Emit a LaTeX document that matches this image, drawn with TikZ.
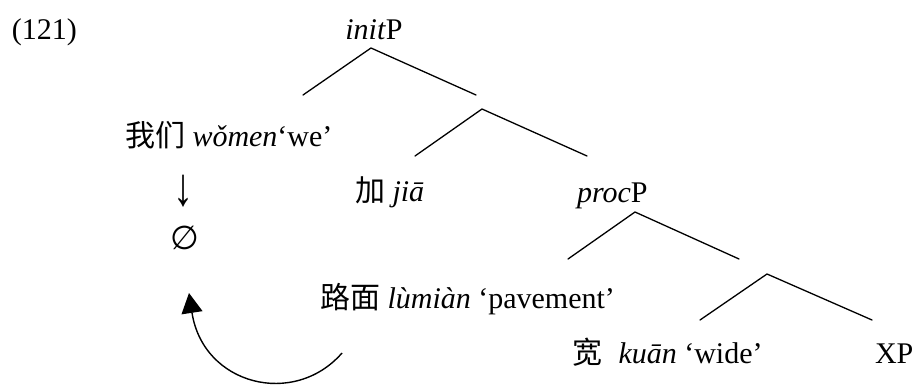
\documentclass[tikz,border=0pt]{standalone}
\usepackage{fontspec}
\usepackage{graphicx}
\setmainfont{Liberation Serif}
\newfontfamily\cjk{Noto Sans CJK SC}
\newfontfamily\sym{DejaVu Sans}
\usetikzlibrary{arrows.meta}
\begin{document}
\begin{tikzpicture}[x=1pt,y=-1pt,
  txt/.style={inner sep=0pt,outer sep=0pt,anchor=base west,font=\fontsize{30}{36}\selectfont},
  branch/.style={line width=1.3pt,line cap=round},
  move/.style={line width=1.4pt,-{Triangle[width=21pt,length=20pt]}}]
\useasboundingbox (0,0) rectangle (917,385);
% labels
\node[txt] (ex) at (12,40) {(121)};
\node[txt,anchor=base] (initP) at (374,40) {\textit{init}P};
\node[txt] (women) at (125,146) {{\cjk 我们} \textit{wǒmen}‘we’};
\node[txt,anchor=center,font=\fontsize{40}{48}\selectfont] (down) at (183,191) {\scalebox{1}[1.35]{↓}};
\node[txt,anchor=center,font=\fontsize{33}{40}\sym] (empty) at (185,238) {∅};
\node[txt] (jia) at (355,201) {{\cjk 加} \textit{jiā}};
\node[txt] (procP) at (577,202) {\textit{proc}P};
\node[txt] (lumian) at (320,308) {{\cjk 路面} \textit{lùmiàn} ‘pavement’};
\node[txt] (kuan) at (572,363) {{\cjk 宽}\hspace{0.55em}\textit{kuān} ‘wide’};
\node[txt] (XP) at (875,363) {XP};
% tree branches
\coordinate (a1) at (371,48);
\coordinate (a1l) at (303,95);
\coordinate (a1r) at (476,95);
\coordinate (a2) at (482,109);
\coordinate (a2l) at (415,156);
\coordinate (a2r) at (587,156);
\coordinate (a3) at (635,212);
\coordinate (a3l) at (568,259);
\coordinate (a3r) at (739,259);
\coordinate (a4) at (767,274);
\coordinate (a4l) at (700,320);
\coordinate (a4r) at (872,320);
\draw[branch] (a1l) -- (a1) -- (a1r);
\draw[branch] (a2l) -- (a2) -- (a2r);
\draw[branch] (a3l) -- (a3) -- (a3r);
\draw[branch] (a4l) -- (a4) -- (a4r);
% movement arrow
\coordinate (mvS) at (342,353);
\coordinate (mvT) at (189,293);
\draw[move] (mvS) .. controls (294,408) and (203,385) .. (mvT);
\end{tikzpicture}
\end{document}
